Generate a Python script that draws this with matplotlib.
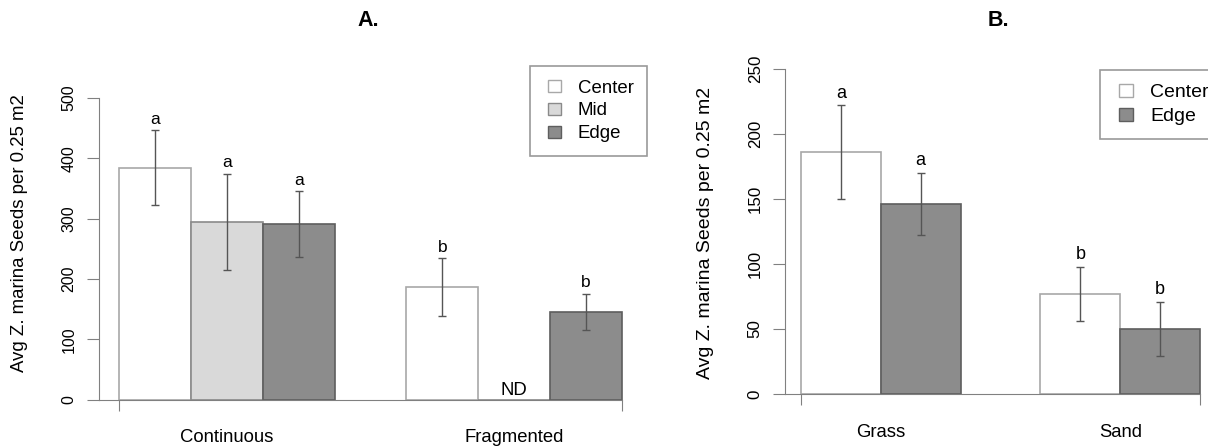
import matplotlib
matplotlib.use('Agg')
import matplotlib.pyplot as plt
from matplotlib.patches import Patch, Rectangle
from matplotlib.legend_handler import HandlerPatch

plt.rcParams['font.family'] = ['Liberation Sans', 'DejaVu Sans']

# ---------------- data ----------------
A_categories = ['Continuous', 'Fragmented']
A_series = ['Center', 'Mid', 'Edge']
A_center = [385, 187]
A_mid = [295, 0]
A_edge = [291, 146]
A_center_se = [62, 48]
A_mid_se = [80, 0]
A_edge_se = [55, 30]
A_center_letters = ['a', 'b']
A_mid_letters = ['a', 'ND']
A_edge_letters = ['a', 'b']
A_yticks = [0, 100, 200, 300, 400, 500]

B_categories = ['Grass', 'Sand']
B_series = ['Center', 'Edge']
B_center = [186, 77]
B_edge = [146, 50]
B_center_se = [36, 21]
B_edge_se = [24, 21]
B_center_letters = ['a', 'b']
B_edge_letters = ['a', 'b']
B_yticks = [0, 50, 100, 150, 200, 250]

ylabel = 'Avg Z. marina Seeds per 0.25 m2'

# ---------------- figure ----------------
W, H = 1208, 446
DPI = 100
PT = DPI / 72.0
fig = plt.figure(figsize=(W / DPI, H / DPI), dpi=DPI)


def px_axes(x0, x1, y_top, y_bot):
    return fig.add_axes([x0 / W, 1 - y_bot / H, (x1 - x0) / W, (y_bot - y_top) / H])


AXIS_COL = '#808080'
fills = {'Center': '#ffffff', 'Mid': '#d9d9d9', 'Edge': '#8c8c8c'}
edges = {'Center': '#a8a8a8', 'Mid': '#8a8a8a', 'Edge': '#5e5e5e'}


def draw_panel(ax, cats, series, values, ses, letters, yticks, fs_tick, fs_cat,
               fs_letter, fs_nd, letter_off, cat_base_px, px_per_unit):
    n = len(series)
    ng = len(cats)
    xmin, xmax = 1, ng * (n + 1)
    pad = 0.04 * (xmax - xmin)
    ymax = yticks[-1]
    ax.set_xlim(xmin - pad, xmax + pad)
    ax.set_ylim(-0.04 * ymax, 1.04 * ymax)
    ax.patch.set_alpha(0)
    for i, s in enumerate(series):
        xs = [1 + g * (n + 1) + i + 0.5 for g in range(ng)]
        ax.bar(xs, values[i], width=1, color=fills[s], edgecolor=edges[s],
               linewidth=1.2, zorder=2)
        ex = [x for x, v in zip(xs, values[i]) if v > 0]
        ev = [v for v in values[i] if v > 0]
        ee = [e for e, v in zip(ses[i], values[i]) if v > 0]
        ax.errorbar(ex, ev, yerr=ee, fmt='none', ecolor='#555555',
                    elinewidth=1.0, capsize=3, capthick=1.0, zorder=3)
        for x, v, e, lab in zip(xs, values[i], ses[i], letters[i]):
            if v > 0:
                ax.annotate(lab, (x, v + e), xytext=(0, letter_off),
                            textcoords='offset points', ha='center',
                            va='baseline', fontsize=fs_letter)
            else:
                ax.annotate(lab, (x, 0), xytext=(0, 3.5),
                            textcoords='offset points', ha='center',
                            va='baseline', fontsize=fs_nd)
    for sp in ['top', 'right']:
        ax.spines[sp].set_visible(False)
    ax.spines['left'].set_bounds(0, ymax)
    ax.spines['left'].set_color(AXIS_COL)
    ax.spines['bottom'].set_position(('data', 0))
    ax.spines['bottom'].set_bounds(xmin - pad, xmax)
    ax.spines['bottom'].set_color(AXIS_COL)
    ax.set_yticks(yticks)
    ax.set_yticklabels([str(t) for t in yticks], fontsize=fs_tick)
    for lab in ax.get_yticklabels():
        lab.set_rotation(90)
        lab.set_va('center')
    ax.tick_params(axis='y', length=8.6, color=AXIS_COL, pad=7.5)
    ax.set_xticks([xmin, xmax])
    ax.set_xticklabels(['', ''])
    ax.tick_params(axis='x', length=8, color=AXIS_COL)
    base = -cat_base_px / px_per_unit
    for g, c in enumerate(cats):
        cx = 1 + g * (n + 1) + n / 2
        ax.text(cx, base, c, ha='center', va='baseline', fontsize=fs_cat,
                clip_on=False)


axA = px_axes(99, 642, 86.1, 411.8)
draw_panel(axA, A_categories, A_series, [A_center, A_mid, A_edge],
           [A_center_se, A_mid_se, A_edge_se],
           [A_center_letters, A_mid_letters, A_edge_letters], A_yticks,
           fs_tick=11.5, fs_cat=13.3, fs_letter=12.5, fs_nd=13.4,
           letter_off=4.5, cat_base_px=42, px_per_unit=0.603)

axB = px_axes(785, 1216, 56, 407)
draw_panel(axB, B_categories, B_series, [B_center, B_edge],
           [B_center_se, B_edge_se], [B_center_letters, B_edge_letters],
           B_yticks, fs_tick=12.2, fs_cat=13.3, fs_letter=13.0, fs_nd=13.4,
           letter_off=5.5, cat_base_px=42.7, px_per_unit=1.3)


# legends with small squares offset inside the handle box
def square_handler(off_px, w_px, h_px):
    def f(legend, orig_handle, xdescent, ydescent, width, height, fontsize):
        w = w_px / PT
        h = h_px / PT
        off = off_px / PT
        return Rectangle((-xdescent + off, -ydescent + (height - h) / 2), w, h)
    return HandlerPatch(patch_func=f)


def make_legend(ax, series, x_px, y_px, fs, off_px, w_px, h_px, textpad_px,
                spacing, borderpad):
    handles = [Patch(facecolor=fills[s], edgecolor=edges[s], linewidth=1.0)
               for s in series]
    hl = (off_px + w_px) / PT / fs
    leg = ax.legend(handles, series, loc='upper left',
                    bbox_to_anchor=(x_px / W, 1 - y_px / H),
                    bbox_transform=fig.transFigure, fancybox=False,
                    edgecolor='#9a9a9a', framealpha=1, fontsize=fs,
                    handlelength=hl, handleheight=0.7,
                    handletextpad=textpad_px / PT / fs,
                    labelspacing=spacing, borderpad=borderpad,
                    borderaxespad=0,
                    handler_map={Patch: square_handler(off_px, w_px, h_px)})
    leg.get_frame().set_linewidth(1.2)
    return leg


make_legend(axA, A_series, 530, 66, 13.4, 4, 13, 12, 17, 0.30, 0.74)
make_legend(axB, B_series, 1100, 70, 14.0, 6, 14, 13, 17, 0.35, 0.69)

# titles and y labels
fig.text(368 / W, 1 - 20 / H, 'A.', ha='center', va='center',
         fontsize=15.5, fontweight='bold')
fig.text(998 / W, 1 - 20 / H, 'B.', ha='center', va='center',
         fontsize=15.5, fontweight='bold')
fig.text(20 / W, 1 - 233 / H, ylabel, rotation=90, ha='center', va='center',
         fontsize=13.4)
fig.text(705 / W, 1 - 233 / H, ylabel, rotation=90, ha='center', va='center',
         fontsize=14.0)

fig.savefig('out.png', dpi=DPI)
